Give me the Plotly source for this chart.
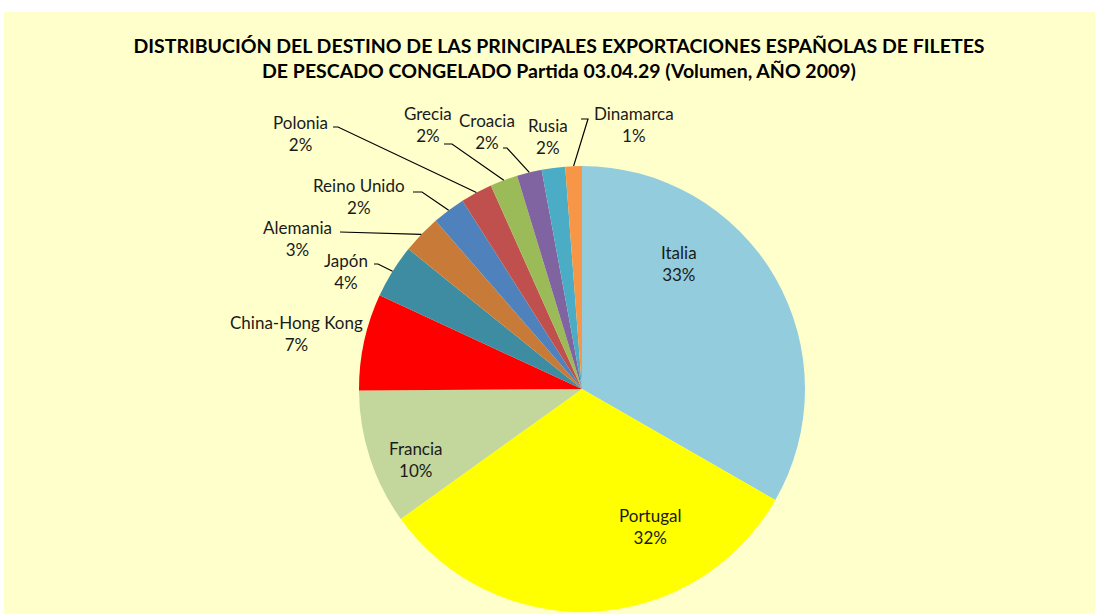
import math
import plotly.graph_objects as go

W, H = 1095, 614

paises = ["Italia", "Portugal", "Francia", "China-Hong Kong", "Japón", "Alemania",
          "Reino Unido", "Polonia", "Grecia", "Croacia", "Rusia", "Dinamarca"]
volumen = [33.3, 31.8, 9.8, 7.0, 3.9, 2.8, 2.4, 2.3, 2.0, 1.8, 1.7, 1.2]
colores = ["#93CDDD", "#FFFF00", "#C3D69B", "#FF0000", "#3D8CA2", "#C87A38",
           "#4F81BD", "#C0504D", "#9BBB59", "#8064A2", "#4BACC6", "#F79646"]

titulo = ("<b>DISTRIBUCIÓN DEL DESTINO DE LAS PRINCIPALES EXPORTACIONES ESPAÑOLAS DE FILETES<br>"
          "DE PESCADO CONGELADO Partida 03.04.29 (Volumen, AÑO 2009)</b>")

# layout (pixels)
cx, cy, R = 582, 389, 223
# label centers (pixels) and optional leader-line start (pixels, elbow)
label_pos = {
    "Italia": (679, 263), "Portugal": (650, 526), "Francia": (416, 459),
    "China-Hong Kong": (296, 333), "Japón": (346, 271), "Alemania": (298, 239),
    "Reino Unido": (359, 197), "Polonia": (300, 133), "Grecia": (428, 125),
    "Croacia": (487, 131), "Rusia": (548, 136), "Dinamarca": (634, 125),
}
leader_start = {
    "Japón": [(374, 264), (378, 264)],
    "Alemania": [(340, 232)],
    "Reino Unido": [(413, 192), (422, 192)],
    "Polonia": [(333, 127), (338, 127)],
    "Grecia": [(444, 144), (452, 144)],
    "Croacia": [(503, 148), (507, 148)],
    "Dinamarca": [(581, 119), (588, 119)],
}

def px(x):
    return x / W

def py(y):
    return 1 - y / H

fig = go.Figure(go.Pie(
    labels=paises, values=volumen, sort=False, direction="clockwise", rotation=0,
    marker=dict(colors=colores, line=dict(width=0)),
    textinfo="none", hoverinfo="label+percent", showlegend=False,
    domain=dict(x=[px(cx - R), px(cx + R)], y=[py(cy + R), py(cy - R)]),
))

total = sum(volumen)
annotations = []
shapes = [dict(type="rect", xref="paper", yref="paper", x0=px(4), x1=1, y0=0, y1=py(12),
               fillcolor="#FFFFCC", line=dict(width=0), layer="below")]
cum = 0
for name, v in zip(paises, volumen):
    pct = round(v / total * 100)
    lx, ly = label_pos[name]
    annotations.append(dict(x=px(lx), y=py(ly), xref="paper", yref="paper",
                            text=f"{name}<br>{pct}%", showarrow=False,
                            font=dict(family="Lato, Carlito, sans-serif", size=17, color="#1a1a1a"),
                            xanchor="center", yanchor="middle"))
    mid = (cum + v / 2) / total
    theta = math.radians(90 - 360 * mid)
    ex = cx + R * math.cos(theta)
    ey = cy - R * math.sin(theta)
    if name in leader_start:
        pts = leader_start[name] + [(ex, ey)]
        path = "M " + " L ".join(f"{px(a)},{py(b)}" for a, b in pts)
        shapes.append(dict(type="path", xref="paper", yref="paper", path=path,
                           line=dict(color="#000000", width=1.2), layer="above"))
    cum += v

fig.update_layout(
    width=W, height=H, margin=dict(l=0, r=0, t=0, b=0),
    paper_bgcolor="#FFFFFF",
    title=dict(text=titulo, x=559 / W, xanchor="center", y=py(53), yanchor="middle",
               font=dict(family="Lato, Carlito, sans-serif", size=19.5, color="#000000")),
    annotations=annotations, shapes=shapes,
)

fig.write_html("out.html", config={"displayModeBar": False},
               post_script="document.body.style.margin='0';")
